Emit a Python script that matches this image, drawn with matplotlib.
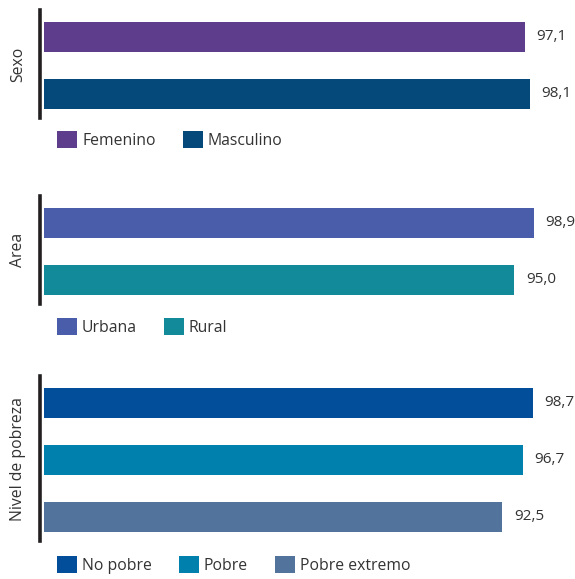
import matplotlib.pyplot as plt
from matplotlib.patches import Patch

plt.rcParams['font.family'] = ['Open Sans', 'DejaVu Sans']

W, H = 575, 579
TEXT = "#333333"

sexo_labels = ["Femenino", "Masculino"]
sexo_values = [97.1, 98.1]
sexo_colors = ["#5E3D8C", "#05497A"]

area_labels = ["Urbana", "Rural"]
area_values = [98.9, 95.0]
area_colors = ["#4A5DAA", "#138A9A"]

pobreza_labels = ["No pobre", "Pobre", "Pobre extremo"]
pobreza_values = [98.7, 96.7, 92.5]
pobreza_colors = ["#034E9A", "#0080AC", "#52739C"]

panels = [
	("Sexo", sexo_labels, sexo_values, sexo_colors, 10, 140),
	("Area", area_labels, area_values, area_colors, 196, 327),
	("Nivel de pobreza", pobreza_labels, pobreza_values, pobreza_colors, 376, 565),
]

SPACING = 57.0  # px between bar centers
X0 = 44
PX_PER_UNIT = 4.95
FS = 11.3

fig = plt.figure(figsize=(W / 100, H / 100), dpi=100)

for title, labels, values, colors, top, legend_y in panels:
	n = len(values)
	span = (n - 1) + 0.47 + 0.43
	h = span * SPACING
	ax = fig.add_axes([X0 / W, 1 - (top + h) / H, (W - X0) / W, h / H])
	ypos = list(range(n))
	ax.barh(ypos, values, height=30 / SPACING, color=colors)
	ax.set_xlim(0, (W - X0) / PX_PER_UNIT)
	ax.set_ylim(n - 1 + 0.43, -0.47)
	for y, v in zip(ypos, values):
		ax.text(v + 2.4, y, f"{v:.1f}".replace(".", ","), va="center", ha="left", fontsize=11, color=TEXT)
	for s in ["top", "right", "bottom"]:
		ax.spines[s].set_visible(False)
	ax.spines["left"].set_linewidth(2.6)
	ax.spines["left"].set_color("#231F20")
	ax.spines["left"].set_position(("outward", 3))
	ax.set_xticks([])
	ax.set_yticks([])
	ax.patch.set_alpha(0)
	fig.text(18 / W, 1 - (top + h / 2) / H, title, rotation=90, ha="center", va="center", fontsize=FS, color=TEXT)

	# legend squares about 20 px
	em = FS * 100 / 72
	handles = [Patch(facecolor=c, edgecolor="none") for c in colors]
	fig.legend(handles, labels, loc="center left", bbox_to_anchor=(57 / W, 1 - legend_y / H),
		ncol=n, frameon=False, fontsize=FS, handlelength=20 / em, handleheight=20 / em,
		handletextpad=5 / em, columnspacing=27 / em, borderpad=0, borderaxespad=0, labelcolor=TEXT)

fig.savefig("out.png", dpi=100)
